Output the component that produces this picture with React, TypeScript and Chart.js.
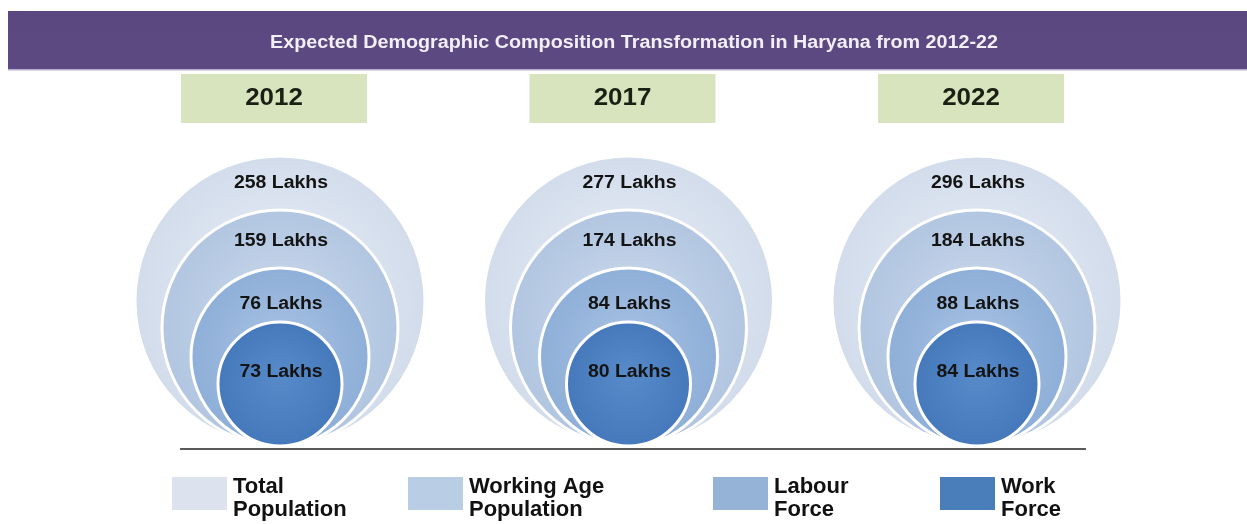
import React, { useEffect, useRef } from 'react';
import { Chart, registerables } from 'chart.js';

Chart.register(...registerables);

// ---------- data ----------
const chartTitle = 'Expected Demographic Composition Transformation in Haryana from 2012-22';
const years = [2012, 2017, 2022];
const yearLabels = ['2012', '2017', '2022'];
const seriesNames = ['Total Population', 'Working Age Population', 'Labour Force', 'Work Force'];
const totalPopulation = [258, 277, 296];
const workingAgePopulation = [159, 174, 184];
const labourForce = [76, 84, 88];
const workForce = [73, 80, 84];
const unitLabel = 'Lakhs';

// ---------- styles ----------
const FONT = '"Liberation Sans", Arial, sans-serif';
const LAYER_RADII = [145, 118, 89, 62];
const LAYER_LABEL_OFFSET = [27, 31, 36, 50];
const LAYER_FLAT = ['#dce6f2', '#b9cde5', '#95b3d7', '#4a7ebb'];
const LAYER_GRAD = [
  ['#e6ecf5', '#d2dceb'],
  ['#c8d7eb', '#b2c6e1'],
  ['#a6c0e2', '#8eafd8'],
  ['#5689c8', '#4679bb'],
];
const LEGEND_SWATCH = ['#dce3ee', '#b9cde5', '#95b3d7', '#4a7ebb'];
const LEGEND_X = [172, 408, 713, 940];

function drawText(
  ctx: CanvasRenderingContext2D,
  text: string,
  x: number,
  y: number,
  font: string,
  color: string,
  sx: number,
  align: CanvasTextAlign = 'center',
  baseline: CanvasTextBaseline = 'middle'
) {
  ctx.save();
  ctx.font = font;
  ctx.fillStyle = color;
  ctx.textAlign = align;
  ctx.textBaseline = baseline;
  ctx.translate(x, y);
  ctx.scale(sx, 1);
  ctx.fillText(text, 0, 0);
  ctx.restore();
}

const infographicPlugin = {
  id: 'infographic',
  beforeDraw(chart: any) {
    const ctx: CanvasRenderingContext2D = chart.ctx;
    const xs = chart.scales.x;
    ctx.save();
    ctx.fillStyle = '#ffffff';
    ctx.fillRect(0, 0, chart.width, chart.height);

    // title bar
    const grad = ctx.createLinearGradient(0, 11, 0, 70);
    grad.addColorStop(0, '#5a4780');
    grad.addColorStop(1, '#5e4a82');
    ctx.fillStyle = grad;
    ctx.fillRect(8, 11, chart.width - 8, 59);
    ctx.fillStyle = '#b9aed0';
    ctx.fillRect(8, 69, chart.width - 8, 1.5);

    ctx.font = `bold 18px ${FONT}`;
    const w = ctx.measureText(chartTitle).width;
    drawText(ctx, chartTitle, 634, 43, `bold 18px ${FONT}`, '#f2eff7', 728 / w);

    // year boxes
    years.forEach((yr, i) => {
      const cx = xs.getPixelForValue(yr) - 6;
      ctx.fillStyle = '#d7e4bd';
      ctx.fillRect(cx - 93, 74, 186, 49);
      drawText(ctx, yearLabels[i], cx, 98, `bold 24px ${FONT}`, '#1b1f14', 1.08);
    });
    ctx.restore();
  },
  afterDatasetsDraw(chart: any) {
    const ctx: CanvasRenderingContext2D = chart.ctx;
    const xs = chart.scales.x;
    const ys = chart.scales.y;
    ctx.save();
    // value labels
    chart.data.datasets.forEach((ds: any, layer: number) => {
      ds.data.forEach((pt: any) => {
        const cx = xs.getPixelForValue(pt.x);
        const cy = ys.getPixelForValue(pt.y);
        const top = cy - pt.r;
        drawText(
          ctx,
          `${pt.v} ${unitLabel}`,
          cx + 1,
          top + LAYER_LABEL_OFFSET[layer],
          `bold 18px ${FONT}`,
          '#141414',
          1.08
        );
      });
    });

    // baseline
    ctx.strokeStyle = '#5a5a5a';
    ctx.lineWidth = 2;
    ctx.beginPath();
    ctx.moveTo(180, 449);
    ctx.lineTo(1086, 449);
    ctx.stroke();

    // legend
    chart.data.datasets.forEach((ds: any, i: number) => {
      const x = LEGEND_X[i];
      ctx.fillStyle = LEGEND_SWATCH[i];
      ctx.fillRect(x, 477, 55, 33);
      const label: string = ds.label;
      const cut = label.lastIndexOf(' ');
      const l1 = label.slice(0, cut);
      const l2 = label.slice(cut + 1);
      drawText(ctx, l1, x + 61, 493, `bold 22px ${FONT}`, '#111111', 1, 'left', 'alphabetic');
      drawText(ctx, l2, x + 61, 516, `bold 22px ${FONT}`, '#111111', 1, 'left', 'alphabetic');
    });
    ctx.restore();
  },
};

function makeDataset(label: string, values: number[], layer: number) {
  return {
    label,
    data: values.map((v, i) => ({ x: years[i], y: LAYER_RADII[layer], r: LAYER_RADII[layer], v })),
    order: 4 - layer,
    clip: false as any,
    borderColor: '#ffffff',
    borderWidth: 3,
    hoverBorderWidth: 3,
    backgroundColor: (c: any) => {
      const raw = c.raw;
      const chart = c.chart;
      if (!raw || !chart.chartArea) return LAYER_FLAT[layer];
      const x = chart.scales.x.getPixelForValue(raw.x);
      const y = chart.scales.y.getPixelForValue(raw.y);
      const g = chart.ctx.createRadialGradient(x, y - raw.r * 0.15, raw.r * 0.1, x, y, raw.r);
      g.addColorStop(0, LAYER_GRAD[layer][0]);
      g.addColorStop(1, LAYER_GRAD[layer][1]);
      return g;
    },
  };
}

export default function App() {
  const ref = useRef<HTMLCanvasElement | null>(null);
  useEffect(() => {
    if (!ref.current) return;
    const chart = new Chart(ref.current, {
      type: 'bubble',
      data: {
        datasets: [
          makeDataset(seriesNames[0], totalPopulation, 0),
          makeDataset(seriesNames[1], workingAgePopulation, 1),
          makeDataset(seriesNames[2], labourForce, 2),
          makeDataset(seriesNames[3], workForce, 3),
        ],
      },
      options: {
        responsive: false,
        animation: false,
        events: [],
        layout: { autoPadding: false, padding: { left: 280, right: 270, top: 146, bottom: 78 } },
        scales: {
          x: { type: 'linear', min: 2012, max: 2022, display: false },
          y: { type: 'linear', min: 0, max: 300, display: false },
        },
        plugins: {
          legend: { display: false },
          title: { display: false },
          tooltip: { enabled: false },
        },
      },
      plugins: [infographicPlugin],
    });
    return () => chart.destroy();
  }, []);
  return (
    <div style={{ position: 'fixed', left: 0, top: 0, width: 1247, height: 524 }}>
      <canvas ref={ref} width={1247} height={524} style={{ display: 'block', width: 1247, height: 524 }} />
    </div>
  );
}
